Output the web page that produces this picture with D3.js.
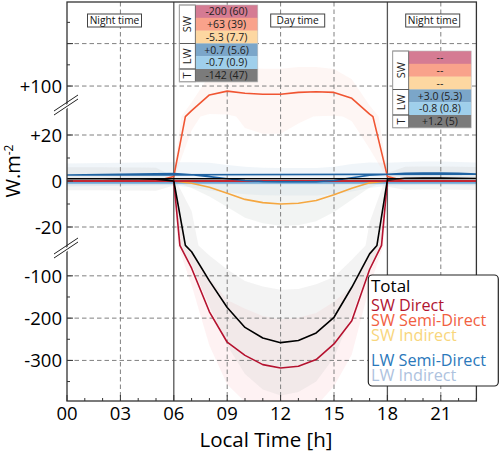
<!DOCTYPE html>
<html><head><meta charset="utf-8">
<script src="https://cdn.jsdelivr.net/npm/d3@7"></script>
<style>body{margin:0;background:#fff}svg{display:block}text{font-family:"Open Sans",sans-serif}</style>
</head><body><svg id="c" width="500" height="452"></svg>
<script>
// ---------- data ----------
const hours = [0,1,2,3,4,5,6,7,8,9,10,11,12,13,14,15,16,17,18,19,20,21,22,23];
const total      = [1.0,1.0,1.0,0.9,0.9,0.8,0.0,-43,-112,-175,-222,-247,-258,-253,-235,-198,-127,-48,0.5,1.2,1.3,1.3,1.2,1.1];
const totalStd   = [5,5,5,5,5,5,2,30,60,90,110,122,125,122,115,95,65,30,3,5,5,5,5,5];
const swDirect   = [0,0,0,0,0,0,0,-82,-185,-257,-288,-310,-318,-314,-298,-261,-206,-85,0,0,0,0,0,0];
const swDirectStd= [0,0,0,0,0,0,0,40,80,100,110,115,115,115,110,100,80,40,0,0,0,0,0,0];
const swSemi     = [0,0,0,0,0,0,2,42,79,88,83,80.5,80.5,85,86.6,85,71,34,2,0,0,0,0,0];
const swSemiStd  = [0,0,0,0,0,0,1,20,45,55,60,60,60,60,58,55,45,20,1,0,0,0,0,0];
const swIndirect = [0,0,0,0,0,0,0,-1,-2.7,-5.3,-8,-9.4,-10,-9.7,-8.5,-6,-3.2,-0.8,0,0,0,0,0,0];
const swIndirectStd=[0,0,0,0,0,0,0,2,4,6,8,9,9.5,9.5,9,7.5,5,2,0,0,0,0,0,0];
const lwSemi     = [2.6,2.7,2.8,2.9,3.0,3.1,3.2,2.7,1.9,1.0,0.2,-0.2,-0.3,-0.3,-0.3,0.2,1.4,2.5,2.9,3.3,3.5,3.5,3.3,3.0];
const lwSemiStd  = [5,5,5,5,5,5,5,5.5,6,6,6,6,6,6,6,6,6,5.5,5,5,5,5,5,5];
const lwIndirect = [-0.8,-0.8,-0.8,-0.8,-0.8,-0.8,-0.7,-0.7,-0.7,-0.7,-0.7,-0.7,-0.7,-0.7,-0.7,-0.7,-0.7,-0.7,-0.7,-0.8,-0.8,-0.8,-0.8,-0.8];
const lwIndirectStd=[1,1,1,1,1,1,1,1,1,1,1,1,1,1,1,1,1,1,1,1,1,1,1,1];

const xTickValues = [0,3,6,9,12,15,18,21];
const xTickLabels = ["00","03","06","09","12","15","18","21"];
const yTickValues = [100,20,0,-20,-100,-200,-300];
const yTickLabels = ["+100","+20","0","-20","-100","-200","-300"];
const yGridValues = [200,100,20,0,-20,-100,-200,-300];
const yMinorValues = [250,150,10,-10,-150,-250,-350];
const breaks = [-28,28];

const dayTable   = ["-200 (60)","+63 (39)","-5.3 (7.7)","+0.7 (5.6)","-0.7 (0.9)","-142 (47)"];
const nightTable = ["--","--","--","+3.0 (5.3)","-0.8 (0.8)","+1.2 (5)"];
const tableGroups = [{label:"SW",rows:3},{label:"LW",rows:2},{label:"T",rows:1}];
const tableColors = ["#d57b93","#f9a28b","#fdd7a1","#7ba6c9","#9fcfeb","#7b7b7b"];

const series = [
  {name:"LW Indirect",   mean:lwIndirect, std:lwIndirectStd, color:"#6fa9d6", text:"#aec2de", band:"#9ec9e6", op:0.2},
  {name:"LW Semi-Direct",mean:lwSemi,     std:lwSemiStd,     color:"#1f63a3", text:"#2a78bb", band:"#b3cde0", op:0.2},
  {name:"SW Indirect",   mean:swIndirect, std:swIndirectStd, color:"#f5a740", text:"#f8d67c", band:"#d3dbd7", op:0.3},
  {name:"SW Semi-Direct",mean:swSemi,     std:swSemiStd,     color:"#f05532", text:"#f1603f", band:"#fcd3ca", op:0.2},
  {name:"SW Direct",     mean:swDirect,   std:swDirectStd,   color:"#b5122f", text:"#b01430", band:"#fbd3d8", op:0.3},
  {name:"Total",         mean:total,      std:totalStd,      color:"#000000", text:"#000000", band:"#c8c8c8", op:0.22}
];
const legendOrder = ["SW Direct","SW Semi-Direct","SW Indirect",null,"LW Semi-Direct","LW Indirect"];

// ---------- scales ----------
const L = 67, R = 476.4, T = 2, B = 401;
const x = d3.scaleLinear().domain([0,23]).range([L,R]);
const y = d3.scaleLinear().domain([-396,-28,28,298]).range([B,245.4,116.6,T]);

// curve that keeps lines straight in data space across the axis breaks
function BrokenCurve(ctx){ this._context = ctx; }
BrokenCurve.prototype = {
  areaStart(){ this._line = 0; },
  areaEnd(){ this._line = NaN; },
  lineStart(){ this._point = 0; },
  lineEnd(){ if (this._line || (this._line !== 0 && this._point === 1)) this._context.closePath(); this._line = 1 - this._line; },
  point(px, py){
    px = +px; py = +py;
    if (this._point === 0){ this._point = 1; this._line ? this._context.lineTo(px,py) : this._context.moveTo(px,py); }
    else {
      const v0 = y.invert(this._y0), v1 = y.invert(py);
      const bps = breaks.filter(b => (b - v0)*(b - v1) < 0).sort((a,b)=> v1 > v0 ? a-b : b-a);
      for (const b of bps){ const t = (b - v0)/(v1 - v0); this._context.lineTo(this._x0 + t*(px - this._x0), y(b)); }
      this._context.lineTo(px,py);
    }
    this._x0 = px; this._y0 = py;
  }
};
const brokenCurve = ctx => new BrokenCurve(ctx);

const svg = d3.select("#c");
svg.append("defs").append("clipPath").attr("id","clip")
  .append("rect").attr("x",L).attr("y",T).attr("width",R-L).attr("height",B-T);
const plot = svg.append("g").attr("clip-path","url(#clip)");

// bands
series.forEach(s=>{
  const area = d3.area().curve(brokenCurve)
    .x(i=>x(hours[i])).y0(i=>y(s.mean[i]-s.std[i])).y1(i=>y(s.mean[i]+s.std[i]));
  plot.append("path").attr("d",area(hours.map((h,i)=>i)))
    .attr("fill",s.band).attr("fill-opacity",s.op).attr("stroke","none");
});

// grid
const dash = "4.5,3";
yGridValues.forEach(v=>{
  plot.append("line").attr("x1",L).attr("x2",R).attr("y1",y(v)).attr("y2",y(v))
    .attr("stroke","#808080").attr("stroke-width",1).attr("stroke-dasharray",dash);
});
xTickValues.filter(h=>h!==0 && h!==6 && h!==18).forEach(h=>{
  plot.append("line").attr("x1",x(h)).attr("x2",x(h)).attr("y1",T).attr("y2",B)
    .attr("stroke","#808080").attr("stroke-width",1).attr("stroke-dasharray",dash);
});
[6,18].forEach(h=>{
  plot.append("line").attr("x1",x(h)).attr("x2",x(h)).attr("y1",T).attr("y2",B)
    .attr("stroke","#555").attr("stroke-width",1.3);
});

// lines
const order = ["LW Indirect","SW Indirect","SW Semi-Direct","SW Direct","LW Semi-Direct","Total"];
order.forEach(n=>{
  const s = series.find(d=>d.name===n);
  const line = d3.line().curve(brokenCurve).x(i=>x(hours[i])).y(i=>y(s.mean[i]));
  plot.append("path").attr("d",line(hours.map((h,i)=>i)))
    .attr("fill","none").attr("stroke",s.color).attr("stroke-width",1.6).attr("stroke-linejoin","round");
});

// frame
svg.append("rect").attr("x",L).attr("y",T).attr("width",R-L).attr("height",B-T)
  .attr("fill","none").attr("stroke","#333").attr("stroke-width",1.3);

// ticks (inward, left and bottom)
const tk = svg.append("g").attr("stroke","#333").attr("stroke-width",1);
yGridValues.forEach(v=>{
  tk.append("line").attr("x1",L).attr("x2",L+6).attr("y1",y(v)).attr("y2",y(v));
});
yMinorValues.forEach(v=>{
  tk.append("line").attr("x1",L).attr("x2",L+3).attr("y1",y(v)).attr("y2",y(v));
});
hours.forEach(h=>{
  const len = (h%3===0)?6:3;
  tk.append("line").attr("x1",x(h)).attr("x2",x(h)).attr("y1",B).attr("y2",B-len);
});

// tick labels
yTickValues.forEach((v,i)=>{
  svg.append("text").attr("x",62).attr("y",y(v)).attr("dy","0.36em")
    .attr("text-anchor","end").attr("font-size",18.5).attr("fill","#000").text(yTickLabels[i]);
});
xTickValues.forEach((h,i)=>{
  svg.append("text").attr("x",x(h)).attr("y",420).attr("text-anchor","middle")
    .attr("font-size",18.5).attr("fill","#000").text(xTickLabels[i]);
});

// break marks
[103,246].forEach(cy=>{
  const g = svg.append("g");
  g.append("path").attr("d",`M${L-13},${cy+10} L${L+11},${cy-6} L${L+11},${cy-2} L${L-13},${cy+14}Z`)
    .attr("fill","#fff");
  g.append("line").attr("x1",L-13).attr("y1",cy+8).attr("x2",L+11).attr("y2",cy-8).attr("stroke","#222").attr("stroke-width",1);
  g.append("line").attr("x1",L-13).attr("y1",cy+12).attr("x2",L+11).attr("y2",cy-4).attr("stroke","#222").attr("stroke-width",1);
});

// axis labels
svg.append("text").attr("x",266).attr("y",447).attr("text-anchor","middle")
  .attr("font-size",20.5).attr("fill","#000").text("Local Time [h]");
const yl = svg.append("text").attr("transform","translate(20,171) rotate(-90)")
  .attr("text-anchor","middle").attr("font-size",20).attr("fill","#000");
yl.append("tspan").text("W.m");
yl.append("tspan").attr("font-size",12).attr("dy",-7).text("-2");

// time-of-day boxes
function tagBox(cx, label){
  const w = 54, h = 13;
  svg.append("rect").attr("x",cx-w/2).attr("y",14).attr("width",w).attr("height",h)
    .attr("fill","#fff").attr("stroke","#444").attr("stroke-width",1);
  svg.append("text").attr("x",cx).attr("y",24.3).attr("text-anchor","middle")
    .attr("font-size",10.2).attr("fill","#111").text(label);
}
tagBox(114.5,"Night time");
tagBox(297.7,"Day time");
tagBox(432.7,"Night time");

// tables
function drawTable(x0, y0, values){
  const lw = 16, cw = 62.5, rh = 12.8;
  const g = svg.append("g");
  g.append("rect").attr("x",x0).attr("y",y0).attr("width",lw+cw).attr("height",rh*6).attr("fill","#fff");
  values.forEach((v,i)=>{
    g.append("rect").attr("x",x0+lw).attr("y",y0+i*rh).attr("width",cw).attr("height",rh+0.3)
      .attr("fill",tableColors[i]);
    g.append("text").attr("x",x0+lw+cw/2).attr("y",y0+i*rh+rh/2).attr("dy","0.36em")
      .attr("text-anchor","middle").attr("font-size",10.5).attr("fill","#222").text(v);
  });
  let r = 0;
  tableGroups.forEach(gr=>{
    const yy = y0 + r*rh, hh = gr.rows*rh;
    g.append("rect").attr("x",x0).attr("y",yy).attr("width",lw).attr("height",hh)
      .attr("fill","none").attr("stroke","#555").attr("stroke-width",0.8);
    g.append("text").attr("transform",`translate(${x0+lw/2+4},${yy+hh/2}) rotate(-90)`)
      .attr("text-anchor","middle").attr("font-size",11).attr("fill","#222").text(gr.label);
    r += gr.rows;
  });
  g.append("rect").attr("x",x0).attr("y",y0).attr("width",lw+cw).attr("height",rh*6)
    .attr("fill","none").attr("stroke","#bbb").attr("stroke-width",0.6);
}
drawTable(179.3, 5, dayTable);
drawTable(392.7, 51, nightTable);

// legend
svg.append("rect").attr("x",368.3).attr("y",275).attr("width",130).attr("height",111).attr("rx",4)
  .attr("fill","#fff").attr("stroke","#222").attr("stroke-width",1.2);
svg.append("text").attr("x",371).attr("y",292).attr("font-size",17).attr("fill","#000").text("Total");
let ly = 311;
legendOrder.forEach(n=>{
  if (n === null){ ly += 10; return; }
  const s = series.find(d=>d.name===n);
  svg.append("text").attr("x",371).attr("y",ly).attr("font-size",16.2).attr("fill",s.text).text(n);
  ly += 15;
});
</script></body></html>
